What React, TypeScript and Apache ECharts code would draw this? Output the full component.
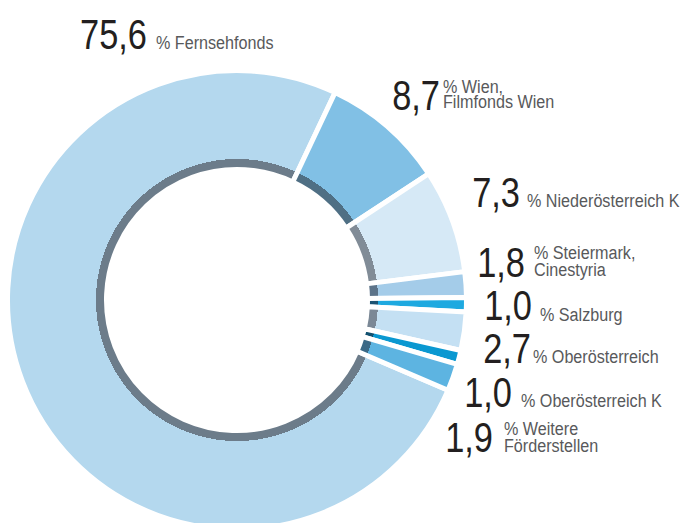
import React, { useEffect, useRef } from "react";
import * as echarts from "echarts";

const categories = [
  "Fernsehfonds",
  "Wien, Filmfonds Wien",
  "Niederösterreich K",
  "Steiermark, Cinestyria",
  "Salzburg",
  "Oberösterreich",
  "Oberösterreich K",
  "Weitere Förderstellen",
];
const values = [75.6, 8.7, 7.3, 1.8, 1.0, 2.7, 1.0, 1.9];
const labelTexts = [
  ["% Fernsehfonds"],
  ["% Wien,", "Filmfonds Wien"],
  ["% Niederösterreich K"],
  ["% Steiermark,", "Cinestyria"],
  ["% Salzburg"],
  ["% Oberösterreich"],
  ["% Oberösterreich K"],
  ["% Weitere", "Förderstellen"],
];

const fillColors = ["#b4d8ee", "#81c0e5", "#d6e9f6", "#a4cce9", "#1ea9e0", "#c4e0f3", "#0a98d1", "#5db4e1"];
const ringColors = ["#6c7c8a", "#4f6f84", "#818c97", "#5c7389", "#1d5372", "#7b8896", "#12506f", "#3b6986"];

// label placement (right edge of number, baselines, description x)
const labelLayout = [
  { nx: 147, by: 49, dx: 156, dy: [49] },
  { nx: 440, by: 110, dx: 443, dy: [93, 108] },
  { nx: 520, by: 207, dx: 527, dy: [207] },
  { nx: 525, by: 277, dx: 534, dy: [259, 276] },
  { nx: 532, by: 320, dx: 540, dy: [321] },
  { nx: 531, by: 363, dx: 533, dy: [363] },
  { nx: 512, by: 407, dx: 521, dy: [407] },
  { nx: 493, by: 452, dx: 504, dy: [435, 452] },
];

const CX = 237;
const CY = 300;
const R_IN = 133;
const R_RING = 141;
const R_OUT = 227;
const GAP = 5;

const NUM_SIZE = 43;
const NUM_SCALE = 0.8;
const DESC_SIZE = 19;
const DESC_SCALE = 0.85;

function fmt(v: number) {
  return v.toFixed(1).replace(".", ",");
}

export default function App() {
  const ref = useRef<HTMLDivElement>(null);
  useEffect(() => {
    if (!ref.current) return;
    const chart = echarts.init(ref.current, null, { renderer: "svg" });
    const rOut = R_OUT + GAP / 2;
    const rIn = R_IN - GAP / 2;
    const t = R_RING / rOut;
    const data = values.map((v, i) => ({
      name: categories[i],
      value: v,
      itemStyle: {
        color: new echarts.graphic.RadialGradient(
          CX,
          CY,
          rOut,
          [
            { offset: 0, color: ringColors[i] },
            { offset: t, color: ringColors[i] },
            { offset: t, color: fillColors[i] },
            { offset: 1, color: fillColors[i] },
          ],
          true
        ),
      },
    }));

    const graphics: any[] = [];
    values.forEach((v, i) => {
      const L = labelLayout[i];
      graphics.push({
        type: "text",
        x: L.nx,
        y: L.by - 0.3465 * NUM_SIZE,
        scaleX: NUM_SCALE,
        style: {
          text: fmt(v),
          fontFamily: "'Liberation Sans', Arial, sans-serif",
          fontSize: NUM_SIZE,
          fill: "#231f20",
          align: "right",
          verticalAlign: "middle",
        },
      });
      labelTexts[i].forEach((line, j) => {
        graphics.push({
          type: "text",
          x: L.dx,
          y: L.dy[j] - 0.3465 * DESC_SIZE,
          scaleX: DESC_SCALE,
          style: {
            text: line,
            fontFamily: "'Liberation Sans', Arial, sans-serif",
            fontSize: DESC_SIZE,
            fill: "#58595b",
            align: "left",
            verticalAlign: "middle",
          },
        });
      });
    });

    chart.setOption({
      animation: false,
      backgroundColor: "#ffffff",
      series: [
        {
          type: "pie",
          center: [CX, CY],
          radius: [rIn, rOut],
          startAngle: 90 - 113.14,
          clockwise: true,
          silent: true,
          label: { show: false },
          labelLine: { show: false },
          emphasis: { disabled: true },
          itemStyle: { borderColor: "#ffffff", borderWidth: GAP },
          data,
        },
      ],
      graphic: graphics,
    });
    return () => chart.dispose();
  }, []);
  return (
    <div
      ref={ref}
      style={{ position: "fixed", left: 0, top: 0, width: 689, height: 523 }}
    />
  );
}
